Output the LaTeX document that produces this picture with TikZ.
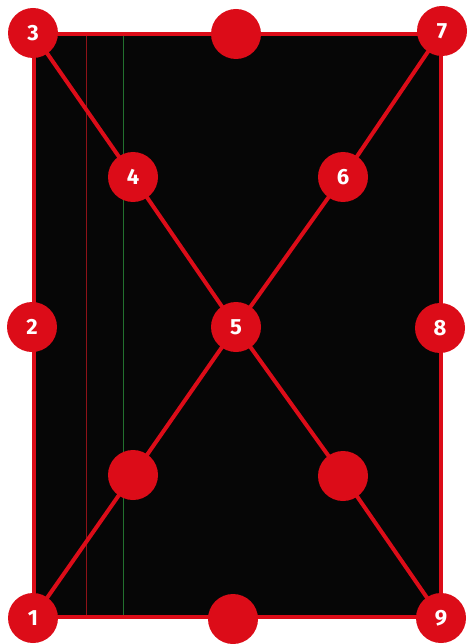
\documentclass[tikz,border=0pt]{standalone}
\usepackage{fontspec}
\setsansfont{Fira Sans}
\usetikzlibrary{backgrounds}
\definecolor{dotred}{HTML}{DC0C18}
\definecolor{boardblack}{HTML}{060606}
\definecolor{thinred}{HTML}{8E1218}
\definecolor{thingreen}{HTML}{22702E}
\tikzset{
  dot/.style={circle, fill=dotred, minimum size=50pt, inner sep=0pt,
    text=white, font=\sffamily\bfseries\fontsize{22}{22}\selectfont},
  cross/.style={draw=dotred, line width=4pt},
  frame/.style={draw=dotred, line width=4.5pt, fill=boardblack},
  guide/.style={line width=1pt}
}
\begin{document}
\begin{tikzpicture}[x=1pt,y=-1pt]
\useasboundingbox (0,0) rectangle (467,644);
\node[dot] (n3) at (33,33) {3};
\node[dot] (nt) at (236,34) {};
\node[dot] (n7) at (442,31) {7};
\node[dot] (n4) at (133,177) {4};
\node[dot] (n6) at (343,177) {6};
\node[dot] (n2) at (32,327) {2};
\node[dot] (n5) at (236,327) {5};
\node[dot] (n8) at (440,328) {8};
\node[dot] (nl) at (133,475) {};
\node[dot] (nr) at (343,476) {};
\node[dot] (n1) at (33,618) {1};
\node[dot] (nb) at (233,619) {};
\node[dot] (n9) at (441,618) {9};
\coordinate (tl) at (34,34);
\coordinate (br) at (441,617);
\begin{pgfonlayer}{background}
  \draw[frame] (tl) rectangle (br);
  \draw[guide, thinred] (86,36) -- (86,615);
  \draw[guide, thingreen] (123,36) -- (123,615);
  \draw[cross] (n3.center) -- (n4.center) -- (n5.center) -- (nr.center) -- (n9.center);
  \draw[cross] (n1.center) -- (nl.center) -- (n5.center) -- (n6.center) -- (n7.center);
\end{pgfonlayer}
\end{tikzpicture}
\end{document}
